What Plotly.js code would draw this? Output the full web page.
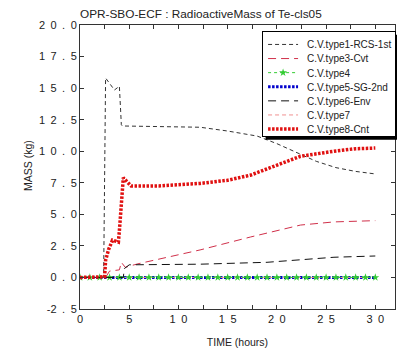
<!DOCTYPE html>
<html>
<head>
<meta charset="utf-8">
<script src="https://cdn.plot.ly/plotly-3.0.1.min.js"></script>
<style>html,body{margin:0;padding:0;background:#fff;}#chart{width:397px;height:351px;}</style>
</head>
<body>
<div id="chart"></div>
<script>
// ---- data ----
const seriesNames = ["C.V.type1-RCS-1st","C.V.type3-Cvt","C.V.type4","C.V.type5-SG-2nd","C.V.type6-Env","C.V.type7","C.V.type8-Cnt"];

const t1 = [0, 2.4, 2.6, 3.0, 3.5, 4.0, 4.2, 4.3, 8, 12.2, 15, 18, 20, 22, 24, 26, 28, 30];
const m1 = [0, 0, 15.8, 15.4, 14.85, 15.15, 12.1, 12.0, 11.95, 11.9, 11.6, 11.2, 10.6, 9.9, 9.2, 8.7, 8.4, 8.2];

const t3 = [0, 2.6, 3.0, 4.0, 4.2, 4.6, 5.5, 6, 12.2, 17.3, 22.4, 25.8, 30];
const m3 = [0, 0, 0.5, 0.6, 1.2, 0.8, 1.0, 1.1, 2.18, 3.2, 4.15, 4.4, 4.5];

const t4 = [0,1,2,3,4,5,6,7,8,9,10,11,12,13,14,15,16,17,18,19,20,21,22,23,24,25,26,27,28,29,30];
const m4 = [0,0,0,0,0,0,0,0,0,0,0,0,0,0,0,0,0,0,0,0,0,0,0,0,0,0,0,0,0,0,0];

const t5 = [0, 30];
const m5 = [0, 0];

const t6 = [0, 4.4, 4.5, 5, 12.2, 15, 19, 22.4, 25.8, 30];
const m6 = [0, 0, 0.7, 1.0, 1.05, 1.1, 1.2, 1.4, 1.6, 1.7];

const t7 = [0, 30];
const m7 = [0, 0];

const t8 = [0, 2.5, 2.6, 2.9, 3.3, 3.9, 4.0, 4.2, 4.4, 5.2, 8, 12.2, 15, 17.3, 20, 22.4, 25.8, 28, 30];
const m8 = [0, 0.05, 1.35, 2.2, 2.95, 2.8, 3.7, 5.9, 7.9, 7.24, 7.25, 7.45, 7.7, 8.1, 8.9, 9.6, 10.0, 10.2, 10.25];

const xTickVals = [0,2.5,5,7.5,10,12.5,15,17.5,20,22.5,25,27.5,30];
const xTickText = ["0","","5","","1\u20020","","1\u20025","","2\u20020","","2\u20025","","3\u20020"];
const yTickVals = [-2.5,0,2.5,5,7.5,10,12.5,15,17.5,20];
const yTickText = ["-2\u2002.\u20025","0\u2002.\u20020","2\u2002.\u20025","5\u2002.\u20020","7\u2002.\u20025","1\u20020\u2002.\u20020","1\u20022\u2002.\u20025","1\u20025\u2002.\u20020","1\u20027\u2002.\u20025","2\u20020\u2002.\u20020"];

const titleText = "OPR-SBO-ECF : RadioactiveMass of Te-cls05";
const xTitle = "TIME (hours)";
const yTitle = "MASS (kg)";

// ---- traces ----
const traces = [
  {x:t1, y:m1, name:seriesNames[0], mode:"lines", line:{color:"#333333", width:1, dash:"4px,3px"}},
  {x:t3, y:m3, name:seriesNames[1], mode:"lines", line:{color:"#d0304a", width:1, dash:"8px,5px"}},
  {x:t4, y:m4, name:seriesNames[2], mode:"lines+markers", line:{color:"#33cc33", width:1, dash:"3px,3px"}, marker:{symbol:"star", size:6, color:"#33cc33"}},
  {x:t5, y:m5, name:seriesNames[3], mode:"lines", line:{color:"#0000cc", width:3, dash:"2.5px,1.5px"}},
  {x:t6, y:m6, name:seriesNames[4], mode:"lines", line:{color:"#111111", width:1, dash:"8px,5px"}},
  {x:t7, y:m7, name:seriesNames[5], mode:"lines", line:{color:"#f09090", width:1, dash:"4px,3px"}},
  {x:t8, y:m8, name:seriesNames[6], mode:"lines", line:{color:"#e01010", width:3.5, dash:"2.5px,1.5px"}}
];
const order = [3,5,2,1,4,0,6];
const data = order.map(i => traces[i]);
const legendRank = {}; seriesNames.forEach((n,i)=>legendRank[n]=i);
data.forEach(d => d.legendrank = legendRank[d.name]);

const fontFam = "Liberation Sans, Arial, sans-serif";
const layout = {
  width:397, height:351,
  margin:{l:80, r:2, t:25, b:42},
  paper_bgcolor:"#ffffff", plot_bgcolor:"#ffffff",
  font:{family:fontFam, color:"#222222", size:11},
  title:{text:titleText, font:{size:11.8, color:"#222222", family:fontFam}, xref:"container", x:80/397, xanchor:"left", yref:"container", y:1-14/351, yanchor:"middle"},
  showlegend:true,
  legend:{
    x:0.578, y:0.978, xanchor:"left", yanchor:"top",
    bgcolor:"#ffffff", bordercolor:"#000000", borderwidth:1,
    font:{size:10, color:"#222222", family:fontFam},
    traceorder:"normal", itemwidth:30, tracegroupgap:0
  },
  annotations:[{
    text:yTitle, textangle:-90, showarrow:false,
    xref:"paper", yref:"paper", x:(28-80)/315, y:(309-166)/284,
    xanchor:"center", yanchor:"middle",
    font:{size:10.5, color:"#222", family:fontFam}
  }],
  xaxis:{
    range:[0,32], tickmode:"array", tickvals:xTickVals, ticktext:xTickText,
    ticks:"inside", ticklen:4, tickcolor:"#333", showgrid:false, zeroline:false,
    showline:true, linecolor:"#333", linewidth:1, mirror:"ticks",
    tickfont:{size:11, color:"#222"},
    title:{text:xTitle, font:{size:10.5, color:"#222"}, standoff:14}
  },
  yaxis:{
    range:[-2.5,20], tickmode:"array", tickvals:yTickVals, ticktext:yTickText,
    ticks:"inside", ticklen:4, tickcolor:"#333", showgrid:false, zeroline:false,
    showline:true, linecolor:"#333", linewidth:1, mirror:"ticks",
    tickfont:{size:11, color:"#222"}
  }
};

function tightenLegend(gd) {
  const NS = "http://www.w3.org/2000/svg";
  const leg = gd.querySelector(".legend");
  if (!leg) return;
  const items = leg.querySelectorAll(".traces");
  const step = 14.1;
  let y0 = null;
  items.forEach((g, i) => {
    const m = /translate\(\s*([-\d.e]+)[\s,]+([-\d.e]+)\s*\)/.exec(g.getAttribute("transform") || "");
    const x = m ? +m[1] : 0;
    const y = m ? +m[2] : 0;
    if (y0 === null) y0 = y - 2.3;
    g.setAttribute("transform", "translate(" + x + "," + (y0 + i * step) + ")");
    const tx = g.querySelector("text.legendtext");
    if (tx) tx.setAttribute("x", (+tx.getAttribute("x") || 40) + 4);
  });
  const bg = leg.querySelector("rect.bg");
  const H = 105;
  if (bg) {
    bg.setAttribute("height", H);
    const w = +bg.getAttribute("width") + 2;
    bg.setAttribute("width", w);
    const bx = +(bg.getAttribute("x") || 0), by = +(bg.getAttribute("y") || 0);
    const sh = document.createElementNS(NS, "rect");
    sh.setAttribute("x", bx + 3); sh.setAttribute("y", by + 3);
    sh.setAttribute("width", w); sh.setAttribute("height", H);
    sh.setAttribute("style", "fill:#000;stroke:none");
    leg.insertBefore(sh, bg);
  }
}

Plotly.newPlot("chart", data, layout, {displayModeBar:false, staticPlot:true}).then(tightenLegend);
</script>
</body>
</html>
